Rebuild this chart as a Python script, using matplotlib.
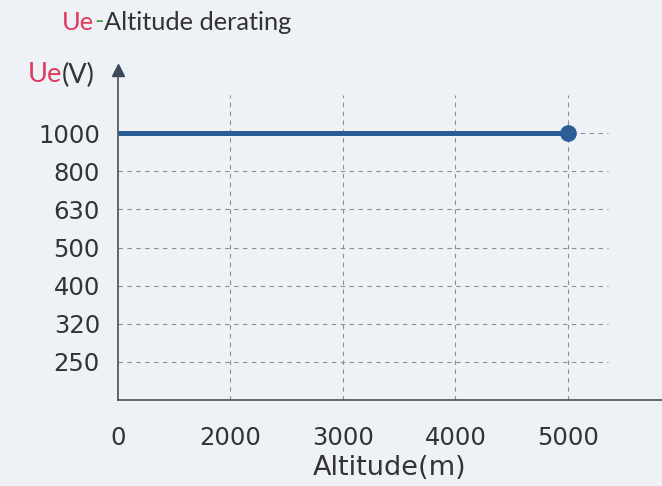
import matplotlib.pyplot as plt

## Data
altitude_labels = ["0", "2000", "3000", "4000", "5000"]
voltage_labels = ["250", "320", "400", "500", "630", "800", "1000"]
line_altitude = ["0", "5000"]
line_voltage = ["1000", "1000"]

## Style
bg = "#eef1f6"
txt = "#333333"
red = "#e0395e"
green = "#3f9a45"
blue = "#2b5d94"

plt.rcParams["font.family"] = ["DejaVu Sans"]

fig = plt.figure(figsize=(6.62, 4.86), dpi=100, facecolor=bg)
ax = fig.add_axes([118 / 662, 86 / 486, 544 / 662, 330 / 486], facecolor=bg)

xpos = {lab: i for i, lab in enumerate(altitude_labels)}
ypos = {lab: i + 1 for i, lab in enumerate(voltage_labels)}

ax.set_xlim(0, 4.836)
ax.set_ylim(0, 8.66)

# dashed grid
grid_kw = dict(colors="#8a8f96", linestyles=(0, (4, 4)), linewidth=0.8, zorder=1)
ax.hlines(list(ypos.values()), 0, 4.36, **grid_kw)
ax.vlines([xpos[a] for a in altitude_labels[1:]], 0, 8.0, **grid_kw)

# rated voltage line
xs = [xpos[a] for a in line_altitude]
ys = [ypos[v] for v in line_voltage]
ax.plot(xs, ys, color=blue, linewidth=3.6, solid_capstyle="butt", zorder=3)
ax.plot(xs[-1:], ys[-1:], "o", color=blue, markersize=11, zorder=4)

ax.set_xticks(list(xpos.values()))
ax.set_xticklabels(altitude_labels)
ax.set_yticks(list(ypos.values()))
ax.set_yticklabels(voltage_labels)
ax.tick_params(axis="both", length=0, labelsize=17.5, colors=txt)
ax.tick_params(axis="x", pad=19)
ax.tick_params(axis="y", pad=13)

for s in ["top", "right"]:
    ax.spines[s].set_visible(False)
for s in ["left", "bottom"]:
    ax.spines[s].set_color("#4a4f57")
    ax.spines[s].set_linewidth(1.2)

# arrow head on y axis
ax.plot([0], [1], marker="^", color="#3d4a5c", markersize=9,
        transform=ax.transAxes, clip_on=False, zorder=5)

# titles
fig.text(390 / 662, 1 - 468 / 486, "Altitude(m)", ha="center", va="center",
         fontsize=19.5, color=txt)

tkw = dict(family=["Lato", "DejaVu Sans"], fontsize=18.3, va="center")
t = fig.text(62 / 662, 1 - 22 / 486, "Ue", color=red, **tkw)
fig.canvas.draw()
r = fig.canvas.get_renderer()
bb = t.get_window_extent(r)
t2 = fig.text(bb.x1 / 662, 1 - 22 / 486, "-", color=green, **tkw)
bb2 = t2.get_window_extent(r)
fig.text(bb2.x1 / 662, 1 - 22 / 486, "Altitude derating", color=txt, **tkw)

ukw = dict(tkw, fontsize=19.5)
u = fig.text(28 / 662, 1 - 75 / 486, "Ue", color=red, **ukw)
bb3 = u.get_window_extent(r)
fig.text(bb3.x1 / 662, 1 - 75 / 486, "(V)", color=txt, **ukw)

fig.savefig("out.png", dpi=100, facecolor=bg)
